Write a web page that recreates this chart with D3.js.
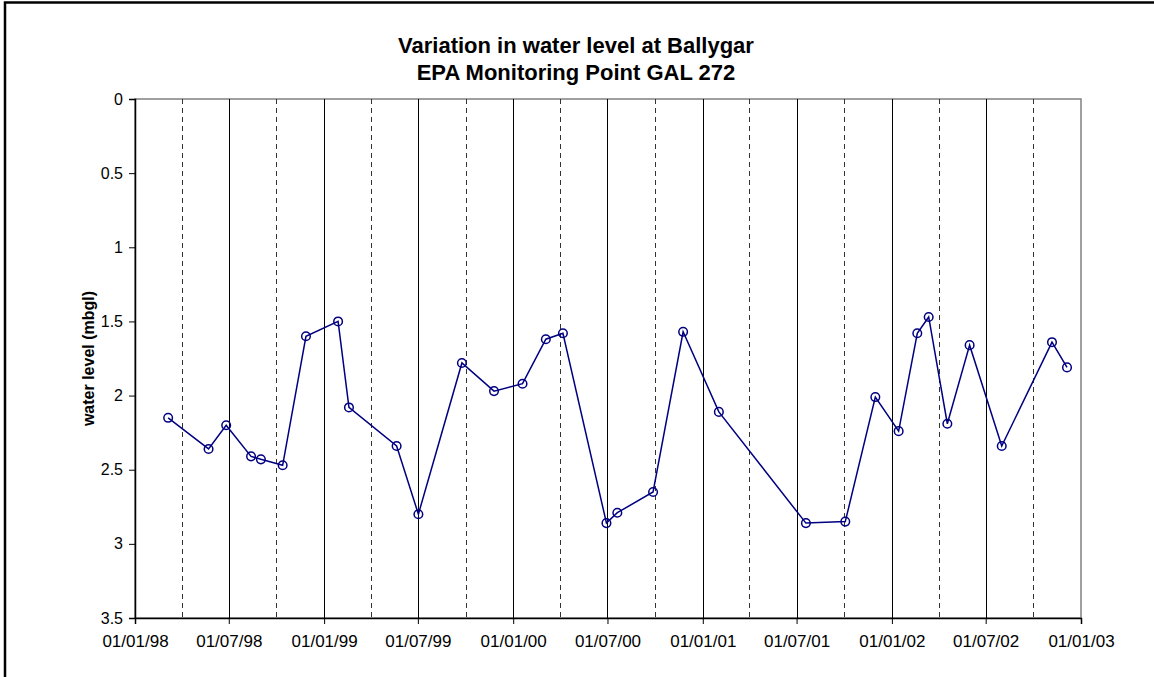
<!DOCTYPE html>
<html><head><meta charset="utf-8">
<script src="https://cdn.jsdelivr.net/npm/d3@7"></script>
<style>body{margin:0;background:#fff;} svg{display:block;}</style>
</head><body>
<svg id="c" width="1154" height="677"></svg>
<script>
const dates = ["1998-03-06","1998-05-23","1998-06-26","1998-08-13","1998-09-01","1998-10-13","1998-11-27",
"1999-01-28","1999-02-18","1999-05-21","1999-07-02","1999-09-24","1999-11-25",
"2000-01-19","2000-03-04","2000-04-06","2000-06-29","2000-07-20","2000-09-27","2000-11-24",
"2001-02-01","2001-07-19","2001-10-03","2001-11-30",
"2002-01-14","2002-02-19","2002-03-13","2002-04-18","2002-05-31","2002-08-01","2002-11-06","2002-12-05"];
const levels = [2.15,2.36,2.20,2.41,2.43,2.47,1.60,1.50,2.08,2.34,2.80,1.78,1.97,1.92,1.62,1.58,2.86,2.79,2.65,1.57,2.11,2.86,2.85,2.01,2.24,1.58,1.47,2.19,1.66,2.34,1.64,1.81];
const yTicks = [0,0.5,1,1.5,2,2.5,3,3.5];
const xTickLabels = ["01/01/98","01/07/98","01/01/99","01/07/99","01/01/00","01/07/00","01/01/01","01/07/01","01/01/02","01/07/02","01/01/03"];
const titleLines = ["Variation in water level at Ballygar","EPA Monitoring Point GAL 272"];
const yTitle = "water level (mbgl)";

const parse = d3.timeParse("%Y-%m-%d");
const parseTick = d3.timeParse("%d/%m/%y");
const data = dates.map((d,i)=>({date:parse(d), v:levels[i]}));
const halfYears = xTickLabels.map(parseTick);
const quarters = d3.timeMonth.every(3).range(parse("1998-01-01"), parse("2003-01-01")).filter(d=>d.getMonth()===3||d.getMonth()===9);

const svg = d3.select("#c");
const L=135, R=1081, T=99, B=618;
const x = d3.scaleTime().domain([parse("1998-01-01"), parse("2003-01-01")]).range([L,R]);
const y = d3.scaleLinear().domain([0,3.5]).range([T,B]);
const FONT = "'Liberation Sans', Arial, sans-serif";

// outer frame
svg.append("rect").attr("x",5).attr("y",2.5).attr("width",1200).attr("height",700)
  .attr("fill","none").attr("stroke","#000").attr("stroke-width",2.5);

// plot frame
svg.append("rect").attr("x",L).attr("y",T).attr("width",R-L).attr("height",B-T)
  .attr("fill","#fff").attr("stroke","#808080").attr("stroke-width",1.5);

// gridlines
svg.append("g").selectAll("line").data(quarters).join("line")
  .attr("x1",d=>Math.round(x(d))+0.5).attr("x2",d=>Math.round(x(d))+0.5)
  .attr("y1",T).attr("y2",B).attr("stroke","#333").attr("stroke-width",1).attr("stroke-dasharray","5,4");
svg.append("g").selectAll("line").data(halfYears.slice(1,-1)).join("line")
  .attr("x1",d=>Math.round(x(d))+0.5).attr("x2",d=>Math.round(x(d))+0.5)
  .attr("y1",T).attr("y2",B).attr("stroke","#000").attr("stroke-width",1);

// axes
const yAxis = d3.axisLeft(y).tickValues(yTicks).tickSize(6).tickPadding(6).tickFormat(d=>d3.format("")(d));
const gy = svg.append("g").attr("transform",`translate(${L},0)`).call(yAxis);
gy.select(".domain").attr("stroke","#000").attr("stroke-width",1.5);
gy.selectAll(".tick line").attr("stroke","#000");
gy.selectAll("text").attr("font-family",FONT).attr("font-size",16).attr("fill","#000");

const xAxis = d3.axisBottom(x).tickValues(halfYears).tickSize(6).tickPadding(11).tickFormat((d,i)=>xTickLabels[i]);
const gx = svg.append("g").attr("transform",`translate(0,${B})`).call(xAxis);
gx.select(".domain").attr("stroke","#000").attr("stroke-width",1.5);
gx.selectAll(".tick line").attr("stroke","#000");
gx.selectAll("text").attr("font-family",FONT).attr("font-size",17).attr("fill","#000");

// series
svg.append("path").datum(data)
  .attr("d", d3.line().x(d=>x(d.date)).y(d=>y(d.v)))
  .attr("fill","none").attr("stroke","#000080").attr("stroke-width",1.5);
svg.append("g").selectAll("circle").data(data).join("circle")
  .attr("cx",d=>x(d.date)).attr("cy",d=>y(d.v)).attr("r",4.3)
  .attr("fill","none").attr("stroke","#000080").attr("stroke-width",1.5);

// titles
svg.append("g").selectAll("text").data(titleLines).join("text")
  .attr("x",576).attr("y",(d,i)=>53+i*27).attr("text-anchor","middle")
  .attr("font-family",FONT).attr("font-weight","bold").attr("font-size",22)
  .text(d=>d);
svg.append("text").attr("transform",`translate(94,${(T+B)/2}) rotate(-90)`).attr("text-anchor","middle")
  .attr("font-family",FONT).attr("font-weight","bold").attr("font-size",16)
  .text(yTitle);
</script>
</body></html>
